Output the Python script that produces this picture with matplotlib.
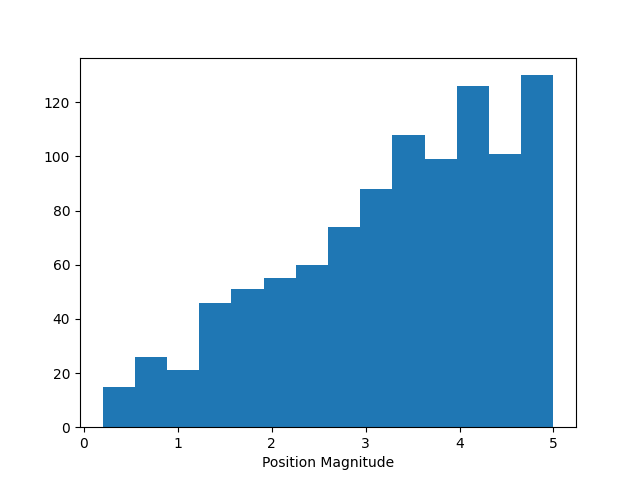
import numpy as np
import matplotlib
matplotlib.use("Agg")
import matplotlib.pyplot as plt

# bin range and counts
x_min = 0.2
x_max = 5.0
n_bins = 14
counts = [15, 26, 21, 46, 51, 55, 60, 74, 88, 108, 99, 126, 101, 130]

edges = np.linspace(x_min, x_max, n_bins + 1)
centers = (edges[:-1] + edges[1:]) / 2

fig, ax = plt.subplots(figsize=(6.4, 4.8), dpi=100)
ax.hist(centers, bins=edges, weights=counts)
ax.set_xlabel("Position Magnitude")

fig.savefig("out.png")
